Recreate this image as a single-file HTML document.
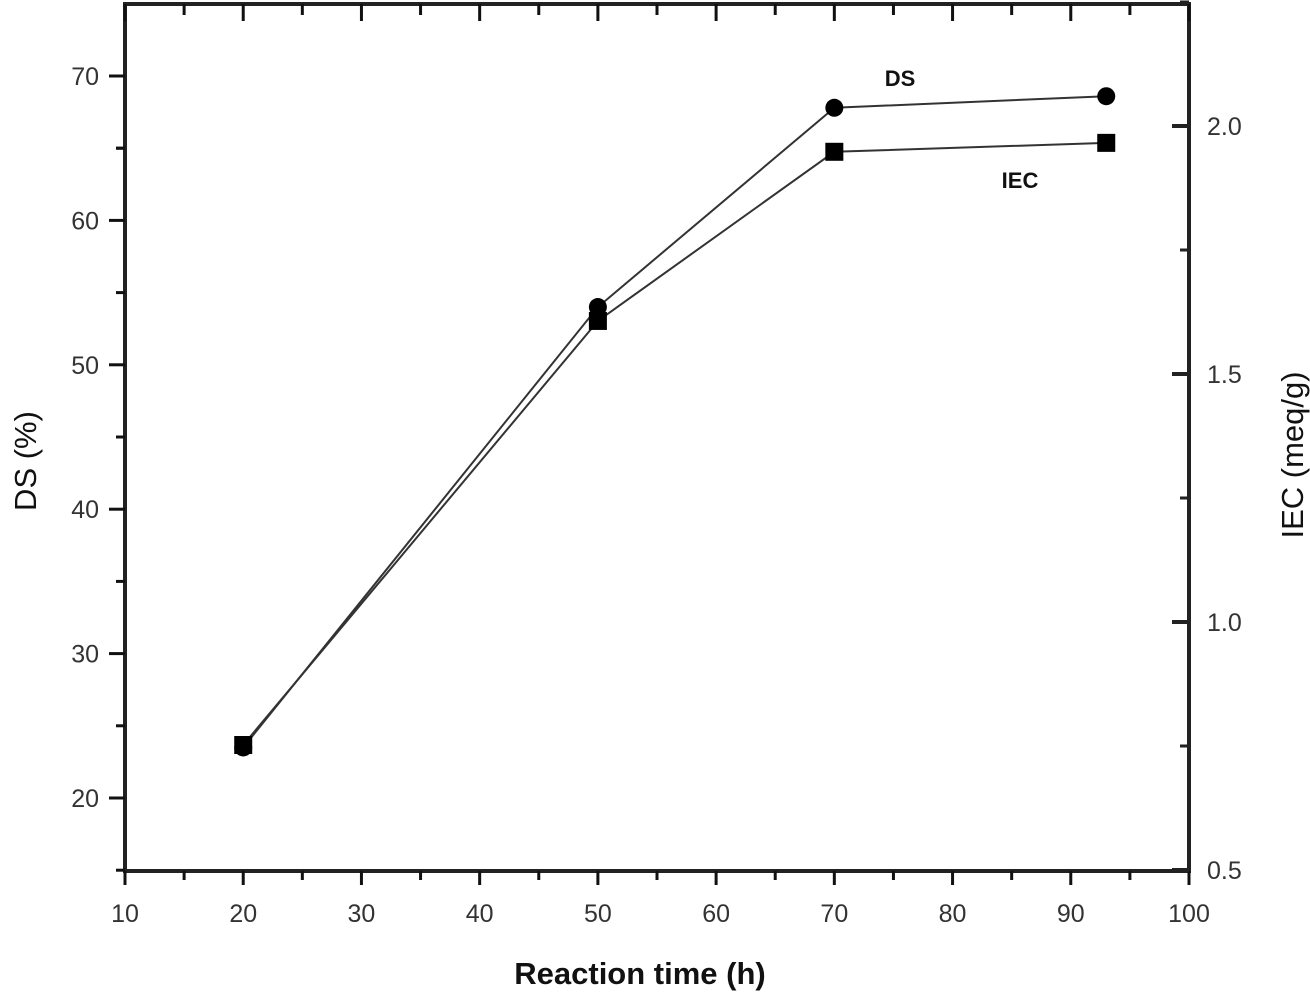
<!DOCTYPE html>
<html><head><meta charset="utf-8"><style>
html,body{margin:0;padding:0;background:#fff;}
svg{display:block;font-family:"Liberation Sans",Arial,sans-serif;}
</style></head><body>
<svg id="chart" width="1310" height="996" viewBox="0 0 1310 996">
<g id="axes"></g>
<g id="series"></g>
<text x="900" y="86" font-size="22" font-weight="bold" text-anchor="middle" fill="#111">DS</text>
<text x="1020" y="188" font-size="22" font-weight="bold" text-anchor="middle" fill="#111">IEC</text>
<text x="640" y="984" font-size="31" font-weight="bold" text-anchor="middle" fill="#111">Reaction time (h)</text>
<text transform="translate(36,461) rotate(-90)" font-size="31" text-anchor="middle" fill="#111">DS (%)</text>
<text transform="translate(1303,455) rotate(-90)" font-size="31" text-anchor="middle" fill="#111">IEC (meq/g)</text>
</svg>
<script>
const times = [20, 50, 70, 93];
const dsValues = [23.5, 54.0, 67.8, 68.6];
const iecValues = [0.752, 1.607, 1.948, 1.966];
const xTicks = [10, 20, 30, 40, 50, 60, 70, 80, 90, 100];
const dsTicks = [20, 30, 40, 50, 60, 70];
const iecTicks = ["0.5", "1.0", "1.5", "2.0"];

const L = 125, R = 1189, T = 4, B = 871;
const X = v => L + (v - 10) / 90 * (R - L);
const YL = v => 76 + (70 - v) * 14.44;
const YR = v => 870 - (v - 0.5) * 496;
const NS = "http://www.w3.org/2000/svg";
function mk(tag, attrs, parent) {
  const e = document.createElementNS(NS, tag);
  for (const k in attrs) e.setAttribute(k, attrs[k]);
  parent.appendChild(e);
  return e;
}
const ax = document.getElementById('axes');
const se = document.getElementById('series');
const frame = mk('rect', {x: L, y: T, width: R - L, height: B - T, fill: 'none', stroke: '#222', 'stroke-width': 4}, ax);



xTicks.forEach((v, i) => {
  const x = X(v);
  const t = mk('line', {x1: x, x2: x, y1: B, y2: B + 14, stroke: '#111', 'stroke-width': 3}, ax);
  
  
  mk('line', {x1: x, x2: x, y1: T, y2: T + 17, stroke: '#111', 'stroke-width': 3}, ax);
  if (i < xTicks.length - 1) {
    const xm = X(v + 5);
    mk('line', {x1: xm, x2: xm, y1: B, y2: B + 9, stroke: '#111', 'stroke-width': 3}, ax);
    mk('line', {x1: xm, x2: xm, y1: T, y2: T + 11, stroke: '#111', 'stroke-width': 3}, ax);
  }
  const lb = mk('text', {x: x, y: 922, 'font-size': 25, 'text-anchor': 'middle', fill: '#333'}, ax);
  lb.textContent = v;
  
  
});
dsTicks.forEach(v => {
  const y = YL(v);
  mk('line', {x1: L - 16, x2: L, y1: y, y2: y, stroke: '#111', 'stroke-width': 3}, ax);
  mk('line', {x1: L - 9, x2: L, y1: YL(v - 5), y2: YL(v - 5), stroke: '#111', 'stroke-width': 3}, ax);
  const lb = mk('text', {x: 99, y: y + 9, 'font-size': 25, 'text-anchor': 'end', fill: '#333'}, ax);
  lb.textContent = v;
  
  
});
mk('line', {x1: L - 9, x2: L, y1: YL(65), y2: YL(65), stroke: '#111', 'stroke-width': 3}, ax);
iecTicks.forEach(s => {
  const v = parseFloat(s), y = YR(v);
  mk('line', {x1: R - 17, x2: R, y1: y, y2: y, stroke: '#222', 'stroke-width': 4}, ax);
  const ym = YR(v + 0.25);
  mk('line', {x1: R - 9, x2: R, y1: ym, y2: ym, stroke: '#222', 'stroke-width': 3}, ax);
  const lb = mk('text', {x: 1207, y: y + 9, 'font-size': 25, fill: '#333'}, ax);
  lb.textContent = s;
  
  
});

const dsPts = times.map((t, i) => X(t) + ',' + YL(dsValues[i])).join(' ');
const dsLine = mk('polyline', {points: dsPts, fill: 'none', stroke: '#333', 'stroke-width': 2}, se);


const iecPts = times.map((t, i) => X(t) + ',' + YR(iecValues[i])).join(' ');
const iecLine = mk('polyline', {points: iecPts, fill: 'none', stroke: '#333', 'stroke-width': 2}, se);


times.forEach((t, i) => {
  const c = mk('circle', {cx: X(t), cy: YL(dsValues[i]), r: 9, fill: '#000'}, se);
  
  
  const s = mk('rect', {x: X(t) - 9, y: YR(iecValues[i]) - 9, width: 18, height: 18, fill: '#000'}, se);
  
  
});
</script>
</body></html>
